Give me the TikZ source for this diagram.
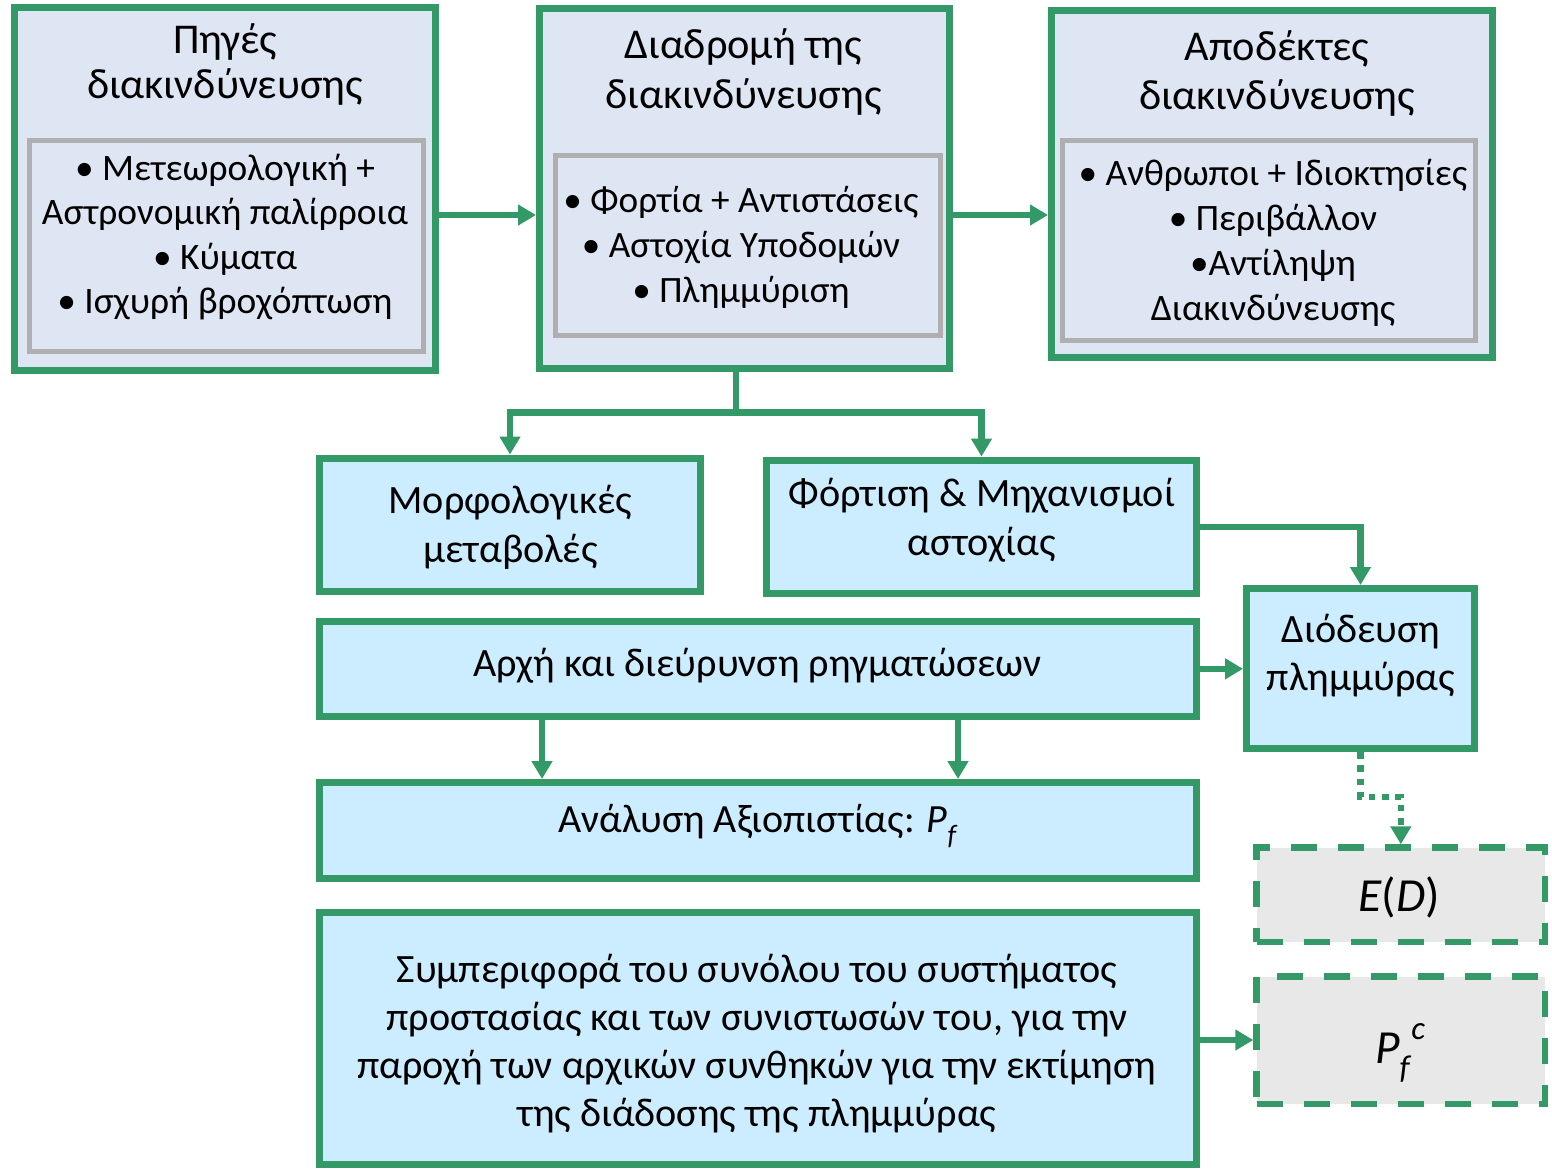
\documentclass[tikz,border=0pt]{standalone}
\usepackage{fontspec}
\setmainfont{Carlito}
\usetikzlibrary{arrows.meta}

\definecolor{grn}{RGB}{51,153,102}
\definecolor{lav}{RGB}{222,229,243}
\definecolor{cyanbg}{RGB}{204,236,255}
\definecolor{gry}{RGB}{175,175,175}
\definecolor{lgray}{RGB}{232,232,232}

% centred lines, the box baseline being that of the first line
\newcommand\txtlines[2]{\vtop{\baselineskip=#1\relax\lineskiplimit=-100pt\lineskip=0pt
  \halign{\hfil##\hfil\cr#2\crcr}}}
\newcommand\fsz[1]{\fontsize{#1}{#1}\selectfont}

\tikzset{
  x=1pt, y=-1pt,
  outerbox/.style={draw=grn, line width=7pt, fill=lav, inner sep=0pt},
  greybox/.style={draw=gry, line width=5pt, inner sep=0pt},
  stepbox/.style={draw=grn, line width=7pt, fill=cyanbg, inner sep=0pt},
  resbox/.style={draw=grn, line width=6.5pt, fill=lgray, inner sep=0pt,
                 dash pattern=on 26pt off 21pt},
  arr/.style={draw=grn, line width=6.5pt, -{Triangle[length=18pt,width=20pt]}},
  dotarr/.style={arr, dash pattern=on 6.5pt off 6.8pt},
  txt/.style={inner sep=0pt, anchor=base},
}

\begin{document}
\begin{tikzpicture}
\useasboundingbox (0,0) rectangle (1552,1168);

% ---- top row: sources, pathway, receptors ----
\node[outerbox, minimum width=421pt, minimum height=363pt] (b1) at (225,189.4) {};
\node[greybox, minimum width=394pt, minimum height=210.5pt] (g1) at (226.5,245.8) {};
\node[txt] (t1) at (225,53) {\fsz{42.4pt}\txtlines{45pt}{Πηγές\cr διακινδύνευσης}};
\node[txt] (l1) at (225,180) {\fsz{37.4pt}\txtlines{44.6pt}{• Μετεωρολογική +\cr Αστρονομική παλίρροια\cr • Κύματα\cr • Ισχυρή βροχόπτωση}};

\node[outerbox, minimum width=410pt, minimum height=359.5pt] (b2) at (744.5,188.3) {};
\node[greybox, minimum width=385pt, minimum height=180pt] (g2) at (748,245.5) {};
\node[txt] (t2) at (743.5,58) {\fsz{42.4pt}\txtlines{50pt}{Διαδρομή της\cr διακινδύνευσης}};
\node[txt] (l2) at (741,212) {\fsz{37.2pt}\txtlines{45pt}{• Φορτία + Αντιστάσεις\cr • Αστοχία Υποδομών\cr • Πλημμύριση}};

\node[outerbox, minimum width=441pt, minimum height=347pt] (b3) at (1272,184) {};
\node[greybox, minimum width=413pt, minimum height=200pt] (g3) at (1269,240.5) {};
\node[txt] (t3) at (1277,60) {\fsz{42.4pt}\txtlines{49pt}{Αποδέκτες\cr διακινδύνευσης}};
\node[txt] (l3) at (1273,185) {\fsz{37.3pt}\txtlines{45.3pt}{• Ανθρωποι + Ιδιοκτησίες\cr • Περιβάλλον\cr •Αντίληψη\cr Διακινδύνευσης}};

% ---- mechanisms ----
\node[stepbox, minimum width=381pt, minimum height=133pt] (b4) at (510,524.5) {};
\node[txt] (t4) at (510.5,513) {\fsz{40.2pt}\txtlines{49pt}{Μορφολογικές\cr μεταβολές}};

\node[stepbox, minimum width=430pt, minimum height=133.5pt] (b5) at (981.5,526.8) {};
\node[txt] (t5) at (982,506.5) {\fsz{40.2pt}\txtlines{48.5pt}{Φόρτιση \& Μηχανισμοί\cr αστοχίας}};

\node[stepbox, minimum width=228pt, minimum height=160pt] (dd) at (1360.5,668.5) {};
\node[txt] (t9) at (1361,642) {\fsz{40.2pt}\txtlines{48pt}{Διόδευση\cr πλημμύρας}};

\node[stepbox, minimum width=877pt, minimum height=94.5pt] (b6) at (758,668.8) {};
\node[txt] (t6) at (757.5,676.5) {\fsz{40.2pt}Αρχή και διεύρυνση ρηγματώσεων};

\node[stepbox, minimum width=877pt, minimum height=96pt] (b7) at (758,830.5) {};
\node[txt] (t7) at (758,832) {\fsz{40pt}Ανάλυση Αξιοπιστίας: \textit{P}\raisebox{-0.3em}{\fsz{28pt}\textit{f}}};

\node[stepbox, minimum width=877pt, minimum height=252pt] (b8) at (758,1038.5) {};
\node[txt] (t8) at (757,982) {\fsz{40.2pt}\txtlines{48pt}{Συμπεριφορά του συνόλου του συστήματος\cr προστασίας και των συνιστωσών του, για την\cr παροχή των αρχικών συνθηκών για την εκτίμηση\cr της διάδοσης της πλημμύρας}};

% ---- results ----
\node[resbox, minimum width=288.5pt, minimum height=94.5pt] (ed) at (1400.8,894.8) {};
\node[txt] (t10) at (1399,911) {\fsz{47.5pt}\textit{E}(\textit{D})};

\node[resbox, minimum width=288.5pt, minimum height=127.5pt] (pfc) at (1400.8,1040.3) {};
\node[txt] (t11) at (1400,1063) {\fsz{47.5pt}\textit{P}\raisebox{-0.33em}{\fsz{33pt}\textit{f}}\raisebox{0.5em}{\fsz{33pt}\textit{c}}};

% ---- connectors ----
\draw[arr] (b1.east |- 0,215) -- (b2.west |- 0,215);
\draw[arr] (b2.east |- 0,215) -- (b3.west |- 0,215);

\coordinate (split) at (736,412.5);
\draw[grn, line width=6.5pt] (split |- b2.south) -- (split);
\draw[arr] ([xshift=3.25pt]split) -| (b4.north);
\draw[arr] ([xshift=-3.25pt]split) -| (b5.north);

\draw[arr] (b5.east |- 0,527) -| (dd.north);
\draw[arr] (b6.east) -- (b6.east -| dd.west);
\draw[arr] (b6.south -| 542,0) -- (b7.north -| 542,0);
\draw[arr] (b6.south -| 958,0) -- (b7.north -| 958,0);
\draw[arr] (b8.east |- 0,1040) -- (pfc.west |- 0,1040);
\draw[dotarr] (dd.south) -- (dd.south |- 0,797) -| (ed.north);
\end{tikzpicture}
\end{document}
